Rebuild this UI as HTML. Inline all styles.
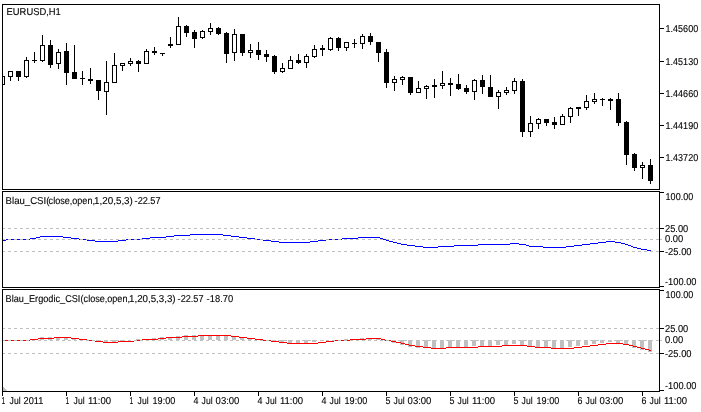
<!DOCTYPE html>
<html><head><meta charset="utf-8"><title>EURUSD,H1</title>
<style>
html,body{margin:0;padding:0;background:#fff;}
body{width:701px;height:412px;position:relative;overflow:hidden;font-family:"Liberation Sans",sans-serif;}
svg{position:absolute;left:0;top:0;}
.tx text{font-family:"Liberation Sans",sans-serif;font-size:10px;fill:#000;stroke:#000;stroke-width:0.12px;white-space:pre;text-rendering:geometricPrecision;}
</style></head><body>
<svg width="701" height="412" viewBox="0 0 701 412" shape-rendering="crispEdges">
<rect x="0" y="340" width="4" height="1" fill="#c0c0c0"/>
<rect x="32" y="339" width="4" height="1" fill="#c0c0c0"/>
<rect x="40" y="337" width="4" height="3" fill="#c0c0c0"/>
<rect x="48" y="337" width="4" height="3" fill="#c0c0c0"/>
<rect x="56" y="337" width="4" height="3" fill="#c0c0c0"/>
<rect x="64" y="338" width="4" height="2" fill="#c0c0c0"/>
<rect x="72" y="339" width="4" height="1" fill="#c0c0c0"/>
<rect x="88" y="340" width="4" height="1" fill="#c0c0c0"/>
<rect x="96" y="340" width="4" height="2" fill="#c0c0c0"/>
<rect x="104" y="340" width="4" height="2" fill="#c0c0c0"/>
<rect x="112" y="340" width="4" height="2" fill="#c0c0c0"/>
<rect x="120" y="340" width="4" height="1" fill="#c0c0c0"/>
<rect x="136" y="339" width="4" height="1" fill="#c0c0c0"/>
<rect x="144" y="339" width="4" height="1" fill="#c0c0c0"/>
<rect x="152" y="338" width="4" height="2" fill="#c0c0c0"/>
<rect x="160" y="337" width="4" height="3" fill="#c0c0c0"/>
<rect x="168" y="337" width="4" height="3" fill="#c0c0c0"/>
<rect x="176" y="336" width="4" height="4" fill="#c0c0c0"/>
<rect x="184" y="335" width="4" height="5" fill="#c0c0c0"/>
<rect x="192" y="335" width="4" height="5" fill="#c0c0c0"/>
<rect x="200" y="335" width="4" height="5" fill="#c0c0c0"/>
<rect x="208" y="335" width="4" height="5" fill="#c0c0c0"/>
<rect x="216" y="335" width="4" height="5" fill="#c0c0c0"/>
<rect x="224" y="336" width="4" height="4" fill="#c0c0c0"/>
<rect x="232" y="337" width="4" height="3" fill="#c0c0c0"/>
<rect x="240" y="338" width="4" height="2" fill="#c0c0c0"/>
<rect x="248" y="339" width="4" height="1" fill="#c0c0c0"/>
<rect x="264" y="340" width="4" height="1" fill="#c0c0c0"/>
<rect x="272" y="340" width="4" height="2" fill="#c0c0c0"/>
<rect x="280" y="340" width="4" height="3" fill="#c0c0c0"/>
<rect x="288" y="340" width="4" height="3" fill="#c0c0c0"/>
<rect x="296" y="340" width="4" height="3" fill="#c0c0c0"/>
<rect x="304" y="340" width="4" height="3" fill="#c0c0c0"/>
<rect x="312" y="340" width="4" height="2" fill="#c0c0c0"/>
<rect x="320" y="340" width="4" height="1" fill="#c0c0c0"/>
<rect x="344" y="339" width="4" height="1" fill="#c0c0c0"/>
<rect x="352" y="339" width="4" height="1" fill="#c0c0c0"/>
<rect x="360" y="338" width="4" height="2" fill="#c0c0c0"/>
<rect x="368" y="338" width="4" height="2" fill="#c0c0c0"/>
<rect x="376" y="338" width="4" height="2" fill="#c0c0c0"/>
<rect x="384" y="340" width="4" height="1" fill="#c0c0c0"/>
<rect x="392" y="340" width="4" height="3" fill="#c0c0c0"/>
<rect x="400" y="340" width="4" height="5" fill="#c0c0c0"/>
<rect x="408" y="340" width="4" height="7" fill="#c0c0c0"/>
<rect x="416" y="340" width="4" height="8" fill="#c0c0c0"/>
<rect x="424" y="340" width="4" height="8" fill="#c0c0c0"/>
<rect x="432" y="340" width="4" height="8" fill="#c0c0c0"/>
<rect x="440" y="340" width="4" height="8" fill="#c0c0c0"/>
<rect x="448" y="340" width="4" height="7" fill="#c0c0c0"/>
<rect x="456" y="340" width="4" height="7" fill="#c0c0c0"/>
<rect x="464" y="340" width="4" height="7" fill="#c0c0c0"/>
<rect x="472" y="340" width="4" height="6" fill="#c0c0c0"/>
<rect x="480" y="340" width="4" height="6" fill="#c0c0c0"/>
<rect x="488" y="340" width="4" height="6" fill="#c0c0c0"/>
<rect x="496" y="340" width="4" height="5" fill="#c0c0c0"/>
<rect x="504" y="340" width="4" height="5" fill="#c0c0c0"/>
<rect x="512" y="340" width="4" height="4" fill="#c0c0c0"/>
<rect x="520" y="340" width="4" height="5" fill="#c0c0c0"/>
<rect x="528" y="340" width="4" height="6" fill="#c0c0c0"/>
<rect x="536" y="340" width="4" height="7" fill="#c0c0c0"/>
<rect x="544" y="340" width="4" height="7" fill="#c0c0c0"/>
<rect x="552" y="340" width="4" height="8" fill="#c0c0c0"/>
<rect x="560" y="340" width="4" height="8" fill="#c0c0c0"/>
<rect x="568" y="340" width="4" height="7" fill="#c0c0c0"/>
<rect x="576" y="340" width="4" height="6" fill="#c0c0c0"/>
<rect x="584" y="340" width="4" height="5" fill="#c0c0c0"/>
<rect x="592" y="340" width="4" height="4" fill="#c0c0c0"/>
<rect x="600" y="340" width="4" height="3" fill="#c0c0c0"/>
<rect x="608" y="340" width="4" height="2" fill="#c0c0c0"/>
<rect x="616" y="340" width="4" height="3" fill="#c0c0c0"/>
<rect x="624" y="340" width="4" height="5" fill="#c0c0c0"/>
<rect x="632" y="340" width="4" height="8" fill="#c0c0c0"/>
<rect x="640" y="340" width="4" height="10" fill="#c0c0c0"/>
<rect x="648" y="340" width="4" height="12" fill="#c0c0c0"/>
<rect x="2" y="240" width="4" height="1" fill="#0000ff"/>
<rect x="6" y="239" width="24" height="1" fill="#0000ff"/>
<rect x="30" y="238" width="6" height="1" fill="#0000ff"/>
<rect x="36" y="237" width="4" height="1" fill="#0000ff"/>
<rect x="40" y="236" width="23" height="1" fill="#0000ff"/>
<rect x="63" y="237" width="8" height="1" fill="#0000ff"/>
<rect x="71" y="238" width="8" height="1" fill="#0000ff"/>
<rect x="79" y="239" width="8" height="1" fill="#0000ff"/>
<rect x="87" y="240" width="8" height="1" fill="#0000ff"/>
<rect x="95" y="241" width="23" height="1" fill="#0000ff"/>
<rect x="118" y="240" width="8" height="1" fill="#0000ff"/>
<rect x="126" y="239" width="16" height="1" fill="#0000ff"/>
<rect x="142" y="238" width="8" height="1" fill="#0000ff"/>
<rect x="150" y="237" width="16" height="1" fill="#0000ff"/>
<rect x="166" y="236" width="8" height="1" fill="#0000ff"/>
<rect x="174" y="235" width="16" height="1" fill="#0000ff"/>
<rect x="190" y="234" width="33" height="1" fill="#0000ff"/>
<rect x="223" y="235" width="8" height="1" fill="#0000ff"/>
<rect x="231" y="236" width="8" height="1" fill="#0000ff"/>
<rect x="239" y="237" width="8" height="1" fill="#0000ff"/>
<rect x="247" y="238" width="8" height="1" fill="#0000ff"/>
<rect x="255" y="239" width="8" height="1" fill="#0000ff"/>
<rect x="263" y="240" width="8" height="1" fill="#0000ff"/>
<rect x="271" y="241" width="8" height="1" fill="#0000ff"/>
<rect x="279" y="242" width="31" height="1" fill="#0000ff"/>
<rect x="310" y="241" width="8" height="1" fill="#0000ff"/>
<rect x="318" y="240" width="8" height="1" fill="#0000ff"/>
<rect x="326" y="239" width="16" height="1" fill="#0000ff"/>
<rect x="342" y="238" width="16" height="1" fill="#0000ff"/>
<rect x="358" y="237" width="22" height="1" fill="#0000ff"/>
<rect x="380" y="238" width="3" height="1" fill="#0000ff"/>
<rect x="383" y="239" width="3" height="1" fill="#0000ff"/>
<rect x="386" y="240" width="3" height="1" fill="#0000ff"/>
<rect x="389" y="241" width="4" height="1" fill="#0000ff"/>
<rect x="393" y="242" width="4" height="1" fill="#0000ff"/>
<rect x="397" y="243" width="4" height="1" fill="#0000ff"/>
<rect x="401" y="244" width="6" height="1" fill="#0000ff"/>
<rect x="407" y="245" width="8" height="1" fill="#0000ff"/>
<rect x="415" y="246" width="8" height="1" fill="#0000ff"/>
<rect x="423" y="247" width="15" height="1" fill="#0000ff"/>
<rect x="438" y="246" width="16" height="1" fill="#0000ff"/>
<rect x="454" y="245" width="24" height="1" fill="#0000ff"/>
<rect x="478" y="244" width="32" height="1" fill="#0000ff"/>
<rect x="510" y="243" width="9" height="1" fill="#0000ff"/>
<rect x="519" y="244" width="7" height="1" fill="#0000ff"/>
<rect x="526" y="245" width="3" height="1" fill="#0000ff"/>
<rect x="529" y="246" width="14" height="1" fill="#0000ff"/>
<rect x="543" y="247" width="23" height="1" fill="#0000ff"/>
<rect x="566" y="246" width="8" height="1" fill="#0000ff"/>
<rect x="574" y="245" width="8" height="1" fill="#0000ff"/>
<rect x="582" y="244" width="8" height="1" fill="#0000ff"/>
<rect x="590" y="243" width="8" height="1" fill="#0000ff"/>
<rect x="598" y="242" width="8" height="1" fill="#0000ff"/>
<rect x="606" y="241" width="9" height="1" fill="#0000ff"/>
<rect x="615" y="242" width="6" height="1" fill="#0000ff"/>
<rect x="621" y="243" width="4" height="1" fill="#0000ff"/>
<rect x="625" y="244" width="3" height="1" fill="#0000ff"/>
<rect x="628" y="245" width="3" height="1" fill="#0000ff"/>
<rect x="631" y="246" width="2" height="1" fill="#0000ff"/>
<rect x="633" y="247" width="4" height="1" fill="#0000ff"/>
<rect x="637" y="248" width="4" height="1" fill="#0000ff"/>
<rect x="641" y="249" width="6" height="1" fill="#0000ff"/>
<rect x="647" y="250" width="4" height="1" fill="#0000ff"/>
<rect x="2" y="340" width="28" height="1" fill="#ff0000"/>
<rect x="30" y="339" width="8" height="1" fill="#ff0000"/>
<rect x="38" y="338" width="16" height="1" fill="#ff0000"/>
<rect x="54" y="337" width="17" height="1" fill="#ff0000"/>
<rect x="71" y="338" width="8" height="1" fill="#ff0000"/>
<rect x="79" y="339" width="8" height="1" fill="#ff0000"/>
<rect x="87" y="340" width="8" height="1" fill="#ff0000"/>
<rect x="95" y="341" width="8" height="1" fill="#ff0000"/>
<rect x="103" y="342" width="15" height="1" fill="#ff0000"/>
<rect x="118" y="341" width="16" height="1" fill="#ff0000"/>
<rect x="134" y="340" width="8" height="1" fill="#ff0000"/>
<rect x="142" y="339" width="16" height="1" fill="#ff0000"/>
<rect x="158" y="338" width="8" height="1" fill="#ff0000"/>
<rect x="166" y="337" width="16" height="1" fill="#ff0000"/>
<rect x="182" y="336" width="16" height="1" fill="#ff0000"/>
<rect x="198" y="335" width="33" height="1" fill="#ff0000"/>
<rect x="231" y="336" width="8" height="1" fill="#ff0000"/>
<rect x="239" y="337" width="8" height="1" fill="#ff0000"/>
<rect x="247" y="338" width="8" height="1" fill="#ff0000"/>
<rect x="255" y="339" width="8" height="1" fill="#ff0000"/>
<rect x="263" y="340" width="8" height="1" fill="#ff0000"/>
<rect x="271" y="341" width="8" height="1" fill="#ff0000"/>
<rect x="279" y="342" width="8" height="1" fill="#ff0000"/>
<rect x="287" y="343" width="31" height="1" fill="#ff0000"/>
<rect x="318" y="342" width="8" height="1" fill="#ff0000"/>
<rect x="326" y="341" width="8" height="1" fill="#ff0000"/>
<rect x="334" y="340" width="16" height="1" fill="#ff0000"/>
<rect x="350" y="339" width="16" height="1" fill="#ff0000"/>
<rect x="366" y="338" width="15" height="1" fill="#ff0000"/>
<rect x="381" y="339" width="4" height="1" fill="#ff0000"/>
<rect x="385" y="340" width="6" height="1" fill="#ff0000"/>
<rect x="391" y="341" width="5" height="1" fill="#ff0000"/>
<rect x="396" y="342" width="5" height="1" fill="#ff0000"/>
<rect x="401" y="343" width="4" height="1" fill="#ff0000"/>
<rect x="405" y="344" width="4" height="1" fill="#ff0000"/>
<rect x="409" y="345" width="6" height="1" fill="#ff0000"/>
<rect x="415" y="346" width="8" height="1" fill="#ff0000"/>
<rect x="423" y="347" width="8" height="1" fill="#ff0000"/>
<rect x="431" y="348" width="15" height="1" fill="#ff0000"/>
<rect x="446" y="347" width="32" height="1" fill="#ff0000"/>
<rect x="478" y="346" width="24" height="1" fill="#ff0000"/>
<rect x="502" y="345" width="25" height="1" fill="#ff0000"/>
<rect x="527" y="346" width="8" height="1" fill="#ff0000"/>
<rect x="535" y="347" width="16" height="1" fill="#ff0000"/>
<rect x="551" y="348" width="23" height="1" fill="#ff0000"/>
<rect x="574" y="347" width="8" height="1" fill="#ff0000"/>
<rect x="582" y="346" width="8" height="1" fill="#ff0000"/>
<rect x="590" y="345" width="8" height="1" fill="#ff0000"/>
<rect x="598" y="344" width="8" height="1" fill="#ff0000"/>
<rect x="606" y="343" width="17" height="1" fill="#ff0000"/>
<rect x="623" y="344" width="6" height="1" fill="#ff0000"/>
<rect x="629" y="345" width="4" height="1" fill="#ff0000"/>
<rect x="633" y="346" width="4" height="1" fill="#ff0000"/>
<rect x="637" y="347" width="4" height="1" fill="#ff0000"/>
<rect x="641" y="348" width="4" height="1" fill="#ff0000"/>
<rect x="645" y="349" width="4" height="1" fill="#ff0000"/>
<rect x="649" y="350" width="2" height="1" fill="#ff0000"/>
<rect x="2" y="228" width="3" height="1" fill="#c0c0c0"/>
<rect x="8" y="228" width="3" height="1" fill="#c0c0c0"/>
<rect x="14" y="228" width="3" height="1" fill="#c0c0c0"/>
<rect x="20" y="228" width="3" height="1" fill="#c0c0c0"/>
<rect x="26" y="228" width="3" height="1" fill="#c0c0c0"/>
<rect x="32" y="228" width="3" height="1" fill="#c0c0c0"/>
<rect x="38" y="228" width="3" height="1" fill="#c0c0c0"/>
<rect x="44" y="228" width="3" height="1" fill="#c0c0c0"/>
<rect x="50" y="228" width="3" height="1" fill="#c0c0c0"/>
<rect x="56" y="228" width="3" height="1" fill="#c0c0c0"/>
<rect x="62" y="228" width="3" height="1" fill="#c0c0c0"/>
<rect x="68" y="228" width="3" height="1" fill="#c0c0c0"/>
<rect x="74" y="228" width="3" height="1" fill="#c0c0c0"/>
<rect x="80" y="228" width="3" height="1" fill="#c0c0c0"/>
<rect x="86" y="228" width="3" height="1" fill="#c0c0c0"/>
<rect x="92" y="228" width="3" height="1" fill="#c0c0c0"/>
<rect x="98" y="228" width="3" height="1" fill="#c0c0c0"/>
<rect x="104" y="228" width="3" height="1" fill="#c0c0c0"/>
<rect x="110" y="228" width="3" height="1" fill="#c0c0c0"/>
<rect x="116" y="228" width="3" height="1" fill="#c0c0c0"/>
<rect x="122" y="228" width="3" height="1" fill="#c0c0c0"/>
<rect x="128" y="228" width="3" height="1" fill="#c0c0c0"/>
<rect x="134" y="228" width="3" height="1" fill="#c0c0c0"/>
<rect x="140" y="228" width="3" height="1" fill="#c0c0c0"/>
<rect x="146" y="228" width="3" height="1" fill="#c0c0c0"/>
<rect x="152" y="228" width="3" height="1" fill="#c0c0c0"/>
<rect x="158" y="228" width="3" height="1" fill="#c0c0c0"/>
<rect x="164" y="228" width="3" height="1" fill="#c0c0c0"/>
<rect x="170" y="228" width="3" height="1" fill="#c0c0c0"/>
<rect x="176" y="228" width="3" height="1" fill="#c0c0c0"/>
<rect x="182" y="228" width="3" height="1" fill="#c0c0c0"/>
<rect x="188" y="228" width="3" height="1" fill="#c0c0c0"/>
<rect x="194" y="228" width="3" height="1" fill="#c0c0c0"/>
<rect x="200" y="228" width="3" height="1" fill="#c0c0c0"/>
<rect x="206" y="228" width="3" height="1" fill="#c0c0c0"/>
<rect x="212" y="228" width="3" height="1" fill="#c0c0c0"/>
<rect x="218" y="228" width="3" height="1" fill="#c0c0c0"/>
<rect x="224" y="228" width="3" height="1" fill="#c0c0c0"/>
<rect x="230" y="228" width="3" height="1" fill="#c0c0c0"/>
<rect x="236" y="228" width="3" height="1" fill="#c0c0c0"/>
<rect x="242" y="228" width="3" height="1" fill="#c0c0c0"/>
<rect x="248" y="228" width="3" height="1" fill="#c0c0c0"/>
<rect x="254" y="228" width="3" height="1" fill="#c0c0c0"/>
<rect x="260" y="228" width="3" height="1" fill="#c0c0c0"/>
<rect x="266" y="228" width="3" height="1" fill="#c0c0c0"/>
<rect x="272" y="228" width="3" height="1" fill="#c0c0c0"/>
<rect x="278" y="228" width="3" height="1" fill="#c0c0c0"/>
<rect x="284" y="228" width="3" height="1" fill="#c0c0c0"/>
<rect x="290" y="228" width="3" height="1" fill="#c0c0c0"/>
<rect x="296" y="228" width="3" height="1" fill="#c0c0c0"/>
<rect x="302" y="228" width="3" height="1" fill="#c0c0c0"/>
<rect x="308" y="228" width="3" height="1" fill="#c0c0c0"/>
<rect x="314" y="228" width="3" height="1" fill="#c0c0c0"/>
<rect x="320" y="228" width="3" height="1" fill="#c0c0c0"/>
<rect x="326" y="228" width="3" height="1" fill="#c0c0c0"/>
<rect x="332" y="228" width="3" height="1" fill="#c0c0c0"/>
<rect x="338" y="228" width="3" height="1" fill="#c0c0c0"/>
<rect x="344" y="228" width="3" height="1" fill="#c0c0c0"/>
<rect x="350" y="228" width="3" height="1" fill="#c0c0c0"/>
<rect x="356" y="228" width="3" height="1" fill="#c0c0c0"/>
<rect x="362" y="228" width="3" height="1" fill="#c0c0c0"/>
<rect x="368" y="228" width="3" height="1" fill="#c0c0c0"/>
<rect x="374" y="228" width="3" height="1" fill="#c0c0c0"/>
<rect x="380" y="228" width="3" height="1" fill="#c0c0c0"/>
<rect x="386" y="228" width="3" height="1" fill="#c0c0c0"/>
<rect x="392" y="228" width="3" height="1" fill="#c0c0c0"/>
<rect x="398" y="228" width="3" height="1" fill="#c0c0c0"/>
<rect x="404" y="228" width="3" height="1" fill="#c0c0c0"/>
<rect x="410" y="228" width="3" height="1" fill="#c0c0c0"/>
<rect x="416" y="228" width="3" height="1" fill="#c0c0c0"/>
<rect x="422" y="228" width="3" height="1" fill="#c0c0c0"/>
<rect x="428" y="228" width="3" height="1" fill="#c0c0c0"/>
<rect x="434" y="228" width="3" height="1" fill="#c0c0c0"/>
<rect x="440" y="228" width="3" height="1" fill="#c0c0c0"/>
<rect x="446" y="228" width="3" height="1" fill="#c0c0c0"/>
<rect x="452" y="228" width="3" height="1" fill="#c0c0c0"/>
<rect x="458" y="228" width="3" height="1" fill="#c0c0c0"/>
<rect x="464" y="228" width="3" height="1" fill="#c0c0c0"/>
<rect x="470" y="228" width="3" height="1" fill="#c0c0c0"/>
<rect x="476" y="228" width="3" height="1" fill="#c0c0c0"/>
<rect x="482" y="228" width="3" height="1" fill="#c0c0c0"/>
<rect x="488" y="228" width="3" height="1" fill="#c0c0c0"/>
<rect x="494" y="228" width="3" height="1" fill="#c0c0c0"/>
<rect x="500" y="228" width="3" height="1" fill="#c0c0c0"/>
<rect x="506" y="228" width="3" height="1" fill="#c0c0c0"/>
<rect x="512" y="228" width="3" height="1" fill="#c0c0c0"/>
<rect x="518" y="228" width="3" height="1" fill="#c0c0c0"/>
<rect x="524" y="228" width="3" height="1" fill="#c0c0c0"/>
<rect x="530" y="228" width="3" height="1" fill="#c0c0c0"/>
<rect x="536" y="228" width="3" height="1" fill="#c0c0c0"/>
<rect x="542" y="228" width="3" height="1" fill="#c0c0c0"/>
<rect x="548" y="228" width="3" height="1" fill="#c0c0c0"/>
<rect x="554" y="228" width="3" height="1" fill="#c0c0c0"/>
<rect x="560" y="228" width="3" height="1" fill="#c0c0c0"/>
<rect x="566" y="228" width="3" height="1" fill="#c0c0c0"/>
<rect x="572" y="228" width="3" height="1" fill="#c0c0c0"/>
<rect x="578" y="228" width="3" height="1" fill="#c0c0c0"/>
<rect x="584" y="228" width="3" height="1" fill="#c0c0c0"/>
<rect x="590" y="228" width="3" height="1" fill="#c0c0c0"/>
<rect x="596" y="228" width="3" height="1" fill="#c0c0c0"/>
<rect x="602" y="228" width="3" height="1" fill="#c0c0c0"/>
<rect x="608" y="228" width="3" height="1" fill="#c0c0c0"/>
<rect x="614" y="228" width="3" height="1" fill="#c0c0c0"/>
<rect x="620" y="228" width="3" height="1" fill="#c0c0c0"/>
<rect x="626" y="228" width="3" height="1" fill="#c0c0c0"/>
<rect x="632" y="228" width="3" height="1" fill="#c0c0c0"/>
<rect x="638" y="228" width="3" height="1" fill="#c0c0c0"/>
<rect x="644" y="228" width="3" height="1" fill="#c0c0c0"/>
<rect x="650" y="228" width="3" height="1" fill="#c0c0c0"/>
<rect x="656" y="228" width="3" height="1" fill="#c0c0c0"/>
<rect x="2" y="239" width="3" height="1" fill="#c0c0c0"/>
<rect x="8" y="239" width="3" height="1" fill="#c0c0c0"/>
<rect x="14" y="239" width="3" height="1" fill="#c0c0c0"/>
<rect x="20" y="239" width="3" height="1" fill="#c0c0c0"/>
<rect x="26" y="239" width="3" height="1" fill="#c0c0c0"/>
<rect x="32" y="239" width="3" height="1" fill="#c0c0c0"/>
<rect x="38" y="239" width="3" height="1" fill="#c0c0c0"/>
<rect x="44" y="239" width="3" height="1" fill="#c0c0c0"/>
<rect x="50" y="239" width="3" height="1" fill="#c0c0c0"/>
<rect x="56" y="239" width="3" height="1" fill="#c0c0c0"/>
<rect x="62" y="239" width="3" height="1" fill="#c0c0c0"/>
<rect x="68" y="239" width="3" height="1" fill="#c0c0c0"/>
<rect x="74" y="239" width="3" height="1" fill="#c0c0c0"/>
<rect x="80" y="239" width="3" height="1" fill="#c0c0c0"/>
<rect x="86" y="239" width="3" height="1" fill="#c0c0c0"/>
<rect x="92" y="239" width="3" height="1" fill="#c0c0c0"/>
<rect x="98" y="239" width="3" height="1" fill="#c0c0c0"/>
<rect x="104" y="239" width="3" height="1" fill="#c0c0c0"/>
<rect x="110" y="239" width="3" height="1" fill="#c0c0c0"/>
<rect x="116" y="239" width="3" height="1" fill="#c0c0c0"/>
<rect x="122" y="239" width="3" height="1" fill="#c0c0c0"/>
<rect x="128" y="239" width="3" height="1" fill="#c0c0c0"/>
<rect x="134" y="239" width="3" height="1" fill="#c0c0c0"/>
<rect x="140" y="239" width="3" height="1" fill="#c0c0c0"/>
<rect x="146" y="239" width="3" height="1" fill="#c0c0c0"/>
<rect x="152" y="239" width="3" height="1" fill="#c0c0c0"/>
<rect x="158" y="239" width="3" height="1" fill="#c0c0c0"/>
<rect x="164" y="239" width="3" height="1" fill="#c0c0c0"/>
<rect x="170" y="239" width="3" height="1" fill="#c0c0c0"/>
<rect x="176" y="239" width="3" height="1" fill="#c0c0c0"/>
<rect x="182" y="239" width="3" height="1" fill="#c0c0c0"/>
<rect x="188" y="239" width="3" height="1" fill="#c0c0c0"/>
<rect x="194" y="239" width="3" height="1" fill="#c0c0c0"/>
<rect x="200" y="239" width="3" height="1" fill="#c0c0c0"/>
<rect x="206" y="239" width="3" height="1" fill="#c0c0c0"/>
<rect x="212" y="239" width="3" height="1" fill="#c0c0c0"/>
<rect x="218" y="239" width="3" height="1" fill="#c0c0c0"/>
<rect x="224" y="239" width="3" height="1" fill="#c0c0c0"/>
<rect x="230" y="239" width="3" height="1" fill="#c0c0c0"/>
<rect x="236" y="239" width="3" height="1" fill="#c0c0c0"/>
<rect x="242" y="239" width="3" height="1" fill="#c0c0c0"/>
<rect x="248" y="239" width="3" height="1" fill="#c0c0c0"/>
<rect x="254" y="239" width="3" height="1" fill="#c0c0c0"/>
<rect x="260" y="239" width="3" height="1" fill="#c0c0c0"/>
<rect x="266" y="239" width="3" height="1" fill="#c0c0c0"/>
<rect x="272" y="239" width="3" height="1" fill="#c0c0c0"/>
<rect x="278" y="239" width="3" height="1" fill="#c0c0c0"/>
<rect x="284" y="239" width="3" height="1" fill="#c0c0c0"/>
<rect x="290" y="239" width="3" height="1" fill="#c0c0c0"/>
<rect x="296" y="239" width="3" height="1" fill="#c0c0c0"/>
<rect x="302" y="239" width="3" height="1" fill="#c0c0c0"/>
<rect x="308" y="239" width="3" height="1" fill="#c0c0c0"/>
<rect x="314" y="239" width="3" height="1" fill="#c0c0c0"/>
<rect x="320" y="239" width="3" height="1" fill="#c0c0c0"/>
<rect x="326" y="239" width="3" height="1" fill="#c0c0c0"/>
<rect x="332" y="239" width="3" height="1" fill="#c0c0c0"/>
<rect x="338" y="239" width="3" height="1" fill="#c0c0c0"/>
<rect x="344" y="239" width="3" height="1" fill="#c0c0c0"/>
<rect x="350" y="239" width="3" height="1" fill="#c0c0c0"/>
<rect x="356" y="239" width="3" height="1" fill="#c0c0c0"/>
<rect x="362" y="239" width="3" height="1" fill="#c0c0c0"/>
<rect x="368" y="239" width="3" height="1" fill="#c0c0c0"/>
<rect x="374" y="239" width="3" height="1" fill="#c0c0c0"/>
<rect x="380" y="239" width="3" height="1" fill="#c0c0c0"/>
<rect x="386" y="239" width="3" height="1" fill="#c0c0c0"/>
<rect x="392" y="239" width="3" height="1" fill="#c0c0c0"/>
<rect x="398" y="239" width="3" height="1" fill="#c0c0c0"/>
<rect x="404" y="239" width="3" height="1" fill="#c0c0c0"/>
<rect x="410" y="239" width="3" height="1" fill="#c0c0c0"/>
<rect x="416" y="239" width="3" height="1" fill="#c0c0c0"/>
<rect x="422" y="239" width="3" height="1" fill="#c0c0c0"/>
<rect x="428" y="239" width="3" height="1" fill="#c0c0c0"/>
<rect x="434" y="239" width="3" height="1" fill="#c0c0c0"/>
<rect x="440" y="239" width="3" height="1" fill="#c0c0c0"/>
<rect x="446" y="239" width="3" height="1" fill="#c0c0c0"/>
<rect x="452" y="239" width="3" height="1" fill="#c0c0c0"/>
<rect x="458" y="239" width="3" height="1" fill="#c0c0c0"/>
<rect x="464" y="239" width="3" height="1" fill="#c0c0c0"/>
<rect x="470" y="239" width="3" height="1" fill="#c0c0c0"/>
<rect x="476" y="239" width="3" height="1" fill="#c0c0c0"/>
<rect x="482" y="239" width="3" height="1" fill="#c0c0c0"/>
<rect x="488" y="239" width="3" height="1" fill="#c0c0c0"/>
<rect x="494" y="239" width="3" height="1" fill="#c0c0c0"/>
<rect x="500" y="239" width="3" height="1" fill="#c0c0c0"/>
<rect x="506" y="239" width="3" height="1" fill="#c0c0c0"/>
<rect x="512" y="239" width="3" height="1" fill="#c0c0c0"/>
<rect x="518" y="239" width="3" height="1" fill="#c0c0c0"/>
<rect x="524" y="239" width="3" height="1" fill="#c0c0c0"/>
<rect x="530" y="239" width="3" height="1" fill="#c0c0c0"/>
<rect x="536" y="239" width="3" height="1" fill="#c0c0c0"/>
<rect x="542" y="239" width="3" height="1" fill="#c0c0c0"/>
<rect x="548" y="239" width="3" height="1" fill="#c0c0c0"/>
<rect x="554" y="239" width="3" height="1" fill="#c0c0c0"/>
<rect x="560" y="239" width="3" height="1" fill="#c0c0c0"/>
<rect x="566" y="239" width="3" height="1" fill="#c0c0c0"/>
<rect x="572" y="239" width="3" height="1" fill="#c0c0c0"/>
<rect x="578" y="239" width="3" height="1" fill="#c0c0c0"/>
<rect x="584" y="239" width="3" height="1" fill="#c0c0c0"/>
<rect x="590" y="239" width="3" height="1" fill="#c0c0c0"/>
<rect x="596" y="239" width="3" height="1" fill="#c0c0c0"/>
<rect x="602" y="239" width="3" height="1" fill="#c0c0c0"/>
<rect x="608" y="239" width="3" height="1" fill="#c0c0c0"/>
<rect x="614" y="239" width="3" height="1" fill="#c0c0c0"/>
<rect x="620" y="239" width="3" height="1" fill="#c0c0c0"/>
<rect x="626" y="239" width="3" height="1" fill="#c0c0c0"/>
<rect x="632" y="239" width="3" height="1" fill="#c0c0c0"/>
<rect x="638" y="239" width="3" height="1" fill="#c0c0c0"/>
<rect x="644" y="239" width="3" height="1" fill="#c0c0c0"/>
<rect x="650" y="239" width="3" height="1" fill="#c0c0c0"/>
<rect x="656" y="239" width="3" height="1" fill="#c0c0c0"/>
<rect x="2" y="251" width="3" height="1" fill="#c0c0c0"/>
<rect x="8" y="251" width="3" height="1" fill="#c0c0c0"/>
<rect x="14" y="251" width="3" height="1" fill="#c0c0c0"/>
<rect x="20" y="251" width="3" height="1" fill="#c0c0c0"/>
<rect x="26" y="251" width="3" height="1" fill="#c0c0c0"/>
<rect x="32" y="251" width="3" height="1" fill="#c0c0c0"/>
<rect x="38" y="251" width="3" height="1" fill="#c0c0c0"/>
<rect x="44" y="251" width="3" height="1" fill="#c0c0c0"/>
<rect x="50" y="251" width="3" height="1" fill="#c0c0c0"/>
<rect x="56" y="251" width="3" height="1" fill="#c0c0c0"/>
<rect x="62" y="251" width="3" height="1" fill="#c0c0c0"/>
<rect x="68" y="251" width="3" height="1" fill="#c0c0c0"/>
<rect x="74" y="251" width="3" height="1" fill="#c0c0c0"/>
<rect x="80" y="251" width="3" height="1" fill="#c0c0c0"/>
<rect x="86" y="251" width="3" height="1" fill="#c0c0c0"/>
<rect x="92" y="251" width="3" height="1" fill="#c0c0c0"/>
<rect x="98" y="251" width="3" height="1" fill="#c0c0c0"/>
<rect x="104" y="251" width="3" height="1" fill="#c0c0c0"/>
<rect x="110" y="251" width="3" height="1" fill="#c0c0c0"/>
<rect x="116" y="251" width="3" height="1" fill="#c0c0c0"/>
<rect x="122" y="251" width="3" height="1" fill="#c0c0c0"/>
<rect x="128" y="251" width="3" height="1" fill="#c0c0c0"/>
<rect x="134" y="251" width="3" height="1" fill="#c0c0c0"/>
<rect x="140" y="251" width="3" height="1" fill="#c0c0c0"/>
<rect x="146" y="251" width="3" height="1" fill="#c0c0c0"/>
<rect x="152" y="251" width="3" height="1" fill="#c0c0c0"/>
<rect x="158" y="251" width="3" height="1" fill="#c0c0c0"/>
<rect x="164" y="251" width="3" height="1" fill="#c0c0c0"/>
<rect x="170" y="251" width="3" height="1" fill="#c0c0c0"/>
<rect x="176" y="251" width="3" height="1" fill="#c0c0c0"/>
<rect x="182" y="251" width="3" height="1" fill="#c0c0c0"/>
<rect x="188" y="251" width="3" height="1" fill="#c0c0c0"/>
<rect x="194" y="251" width="3" height="1" fill="#c0c0c0"/>
<rect x="200" y="251" width="3" height="1" fill="#c0c0c0"/>
<rect x="206" y="251" width="3" height="1" fill="#c0c0c0"/>
<rect x="212" y="251" width="3" height="1" fill="#c0c0c0"/>
<rect x="218" y="251" width="3" height="1" fill="#c0c0c0"/>
<rect x="224" y="251" width="3" height="1" fill="#c0c0c0"/>
<rect x="230" y="251" width="3" height="1" fill="#c0c0c0"/>
<rect x="236" y="251" width="3" height="1" fill="#c0c0c0"/>
<rect x="242" y="251" width="3" height="1" fill="#c0c0c0"/>
<rect x="248" y="251" width="3" height="1" fill="#c0c0c0"/>
<rect x="254" y="251" width="3" height="1" fill="#c0c0c0"/>
<rect x="260" y="251" width="3" height="1" fill="#c0c0c0"/>
<rect x="266" y="251" width="3" height="1" fill="#c0c0c0"/>
<rect x="272" y="251" width="3" height="1" fill="#c0c0c0"/>
<rect x="278" y="251" width="3" height="1" fill="#c0c0c0"/>
<rect x="284" y="251" width="3" height="1" fill="#c0c0c0"/>
<rect x="290" y="251" width="3" height="1" fill="#c0c0c0"/>
<rect x="296" y="251" width="3" height="1" fill="#c0c0c0"/>
<rect x="302" y="251" width="3" height="1" fill="#c0c0c0"/>
<rect x="308" y="251" width="3" height="1" fill="#c0c0c0"/>
<rect x="314" y="251" width="3" height="1" fill="#c0c0c0"/>
<rect x="320" y="251" width="3" height="1" fill="#c0c0c0"/>
<rect x="326" y="251" width="3" height="1" fill="#c0c0c0"/>
<rect x="332" y="251" width="3" height="1" fill="#c0c0c0"/>
<rect x="338" y="251" width="3" height="1" fill="#c0c0c0"/>
<rect x="344" y="251" width="3" height="1" fill="#c0c0c0"/>
<rect x="350" y="251" width="3" height="1" fill="#c0c0c0"/>
<rect x="356" y="251" width="3" height="1" fill="#c0c0c0"/>
<rect x="362" y="251" width="3" height="1" fill="#c0c0c0"/>
<rect x="368" y="251" width="3" height="1" fill="#c0c0c0"/>
<rect x="374" y="251" width="3" height="1" fill="#c0c0c0"/>
<rect x="380" y="251" width="3" height="1" fill="#c0c0c0"/>
<rect x="386" y="251" width="3" height="1" fill="#c0c0c0"/>
<rect x="392" y="251" width="3" height="1" fill="#c0c0c0"/>
<rect x="398" y="251" width="3" height="1" fill="#c0c0c0"/>
<rect x="404" y="251" width="3" height="1" fill="#c0c0c0"/>
<rect x="410" y="251" width="3" height="1" fill="#c0c0c0"/>
<rect x="416" y="251" width="3" height="1" fill="#c0c0c0"/>
<rect x="422" y="251" width="3" height="1" fill="#c0c0c0"/>
<rect x="428" y="251" width="3" height="1" fill="#c0c0c0"/>
<rect x="434" y="251" width="3" height="1" fill="#c0c0c0"/>
<rect x="440" y="251" width="3" height="1" fill="#c0c0c0"/>
<rect x="446" y="251" width="3" height="1" fill="#c0c0c0"/>
<rect x="452" y="251" width="3" height="1" fill="#c0c0c0"/>
<rect x="458" y="251" width="3" height="1" fill="#c0c0c0"/>
<rect x="464" y="251" width="3" height="1" fill="#c0c0c0"/>
<rect x="470" y="251" width="3" height="1" fill="#c0c0c0"/>
<rect x="476" y="251" width="3" height="1" fill="#c0c0c0"/>
<rect x="482" y="251" width="3" height="1" fill="#c0c0c0"/>
<rect x="488" y="251" width="3" height="1" fill="#c0c0c0"/>
<rect x="494" y="251" width="3" height="1" fill="#c0c0c0"/>
<rect x="500" y="251" width="3" height="1" fill="#c0c0c0"/>
<rect x="506" y="251" width="3" height="1" fill="#c0c0c0"/>
<rect x="512" y="251" width="3" height="1" fill="#c0c0c0"/>
<rect x="518" y="251" width="3" height="1" fill="#c0c0c0"/>
<rect x="524" y="251" width="3" height="1" fill="#c0c0c0"/>
<rect x="530" y="251" width="3" height="1" fill="#c0c0c0"/>
<rect x="536" y="251" width="3" height="1" fill="#c0c0c0"/>
<rect x="542" y="251" width="3" height="1" fill="#c0c0c0"/>
<rect x="548" y="251" width="3" height="1" fill="#c0c0c0"/>
<rect x="554" y="251" width="3" height="1" fill="#c0c0c0"/>
<rect x="560" y="251" width="3" height="1" fill="#c0c0c0"/>
<rect x="566" y="251" width="3" height="1" fill="#c0c0c0"/>
<rect x="572" y="251" width="3" height="1" fill="#c0c0c0"/>
<rect x="578" y="251" width="3" height="1" fill="#c0c0c0"/>
<rect x="584" y="251" width="3" height="1" fill="#c0c0c0"/>
<rect x="590" y="251" width="3" height="1" fill="#c0c0c0"/>
<rect x="596" y="251" width="3" height="1" fill="#c0c0c0"/>
<rect x="602" y="251" width="3" height="1" fill="#c0c0c0"/>
<rect x="608" y="251" width="3" height="1" fill="#c0c0c0"/>
<rect x="614" y="251" width="3" height="1" fill="#c0c0c0"/>
<rect x="620" y="251" width="3" height="1" fill="#c0c0c0"/>
<rect x="626" y="251" width="3" height="1" fill="#c0c0c0"/>
<rect x="632" y="251" width="3" height="1" fill="#c0c0c0"/>
<rect x="638" y="251" width="3" height="1" fill="#c0c0c0"/>
<rect x="644" y="251" width="3" height="1" fill="#c0c0c0"/>
<rect x="650" y="251" width="3" height="1" fill="#c0c0c0"/>
<rect x="656" y="251" width="3" height="1" fill="#c0c0c0"/>
<rect x="2" y="328" width="3" height="1" fill="#c0c0c0"/>
<rect x="8" y="328" width="3" height="1" fill="#c0c0c0"/>
<rect x="14" y="328" width="3" height="1" fill="#c0c0c0"/>
<rect x="20" y="328" width="3" height="1" fill="#c0c0c0"/>
<rect x="26" y="328" width="3" height="1" fill="#c0c0c0"/>
<rect x="32" y="328" width="3" height="1" fill="#c0c0c0"/>
<rect x="38" y="328" width="3" height="1" fill="#c0c0c0"/>
<rect x="44" y="328" width="3" height="1" fill="#c0c0c0"/>
<rect x="50" y="328" width="3" height="1" fill="#c0c0c0"/>
<rect x="56" y="328" width="3" height="1" fill="#c0c0c0"/>
<rect x="62" y="328" width="3" height="1" fill="#c0c0c0"/>
<rect x="68" y="328" width="3" height="1" fill="#c0c0c0"/>
<rect x="74" y="328" width="3" height="1" fill="#c0c0c0"/>
<rect x="80" y="328" width="3" height="1" fill="#c0c0c0"/>
<rect x="86" y="328" width="3" height="1" fill="#c0c0c0"/>
<rect x="92" y="328" width="3" height="1" fill="#c0c0c0"/>
<rect x="98" y="328" width="3" height="1" fill="#c0c0c0"/>
<rect x="104" y="328" width="3" height="1" fill="#c0c0c0"/>
<rect x="110" y="328" width="3" height="1" fill="#c0c0c0"/>
<rect x="116" y="328" width="3" height="1" fill="#c0c0c0"/>
<rect x="122" y="328" width="3" height="1" fill="#c0c0c0"/>
<rect x="128" y="328" width="3" height="1" fill="#c0c0c0"/>
<rect x="134" y="328" width="3" height="1" fill="#c0c0c0"/>
<rect x="140" y="328" width="3" height="1" fill="#c0c0c0"/>
<rect x="146" y="328" width="3" height="1" fill="#c0c0c0"/>
<rect x="152" y="328" width="3" height="1" fill="#c0c0c0"/>
<rect x="158" y="328" width="3" height="1" fill="#c0c0c0"/>
<rect x="164" y="328" width="3" height="1" fill="#c0c0c0"/>
<rect x="170" y="328" width="3" height="1" fill="#c0c0c0"/>
<rect x="176" y="328" width="3" height="1" fill="#c0c0c0"/>
<rect x="182" y="328" width="3" height="1" fill="#c0c0c0"/>
<rect x="188" y="328" width="3" height="1" fill="#c0c0c0"/>
<rect x="194" y="328" width="3" height="1" fill="#c0c0c0"/>
<rect x="200" y="328" width="3" height="1" fill="#c0c0c0"/>
<rect x="206" y="328" width="3" height="1" fill="#c0c0c0"/>
<rect x="212" y="328" width="3" height="1" fill="#c0c0c0"/>
<rect x="218" y="328" width="3" height="1" fill="#c0c0c0"/>
<rect x="224" y="328" width="3" height="1" fill="#c0c0c0"/>
<rect x="230" y="328" width="3" height="1" fill="#c0c0c0"/>
<rect x="236" y="328" width="3" height="1" fill="#c0c0c0"/>
<rect x="242" y="328" width="3" height="1" fill="#c0c0c0"/>
<rect x="248" y="328" width="3" height="1" fill="#c0c0c0"/>
<rect x="254" y="328" width="3" height="1" fill="#c0c0c0"/>
<rect x="260" y="328" width="3" height="1" fill="#c0c0c0"/>
<rect x="266" y="328" width="3" height="1" fill="#c0c0c0"/>
<rect x="272" y="328" width="3" height="1" fill="#c0c0c0"/>
<rect x="278" y="328" width="3" height="1" fill="#c0c0c0"/>
<rect x="284" y="328" width="3" height="1" fill="#c0c0c0"/>
<rect x="290" y="328" width="3" height="1" fill="#c0c0c0"/>
<rect x="296" y="328" width="3" height="1" fill="#c0c0c0"/>
<rect x="302" y="328" width="3" height="1" fill="#c0c0c0"/>
<rect x="308" y="328" width="3" height="1" fill="#c0c0c0"/>
<rect x="314" y="328" width="3" height="1" fill="#c0c0c0"/>
<rect x="320" y="328" width="3" height="1" fill="#c0c0c0"/>
<rect x="326" y="328" width="3" height="1" fill="#c0c0c0"/>
<rect x="332" y="328" width="3" height="1" fill="#c0c0c0"/>
<rect x="338" y="328" width="3" height="1" fill="#c0c0c0"/>
<rect x="344" y="328" width="3" height="1" fill="#c0c0c0"/>
<rect x="350" y="328" width="3" height="1" fill="#c0c0c0"/>
<rect x="356" y="328" width="3" height="1" fill="#c0c0c0"/>
<rect x="362" y="328" width="3" height="1" fill="#c0c0c0"/>
<rect x="368" y="328" width="3" height="1" fill="#c0c0c0"/>
<rect x="374" y="328" width="3" height="1" fill="#c0c0c0"/>
<rect x="380" y="328" width="3" height="1" fill="#c0c0c0"/>
<rect x="386" y="328" width="3" height="1" fill="#c0c0c0"/>
<rect x="392" y="328" width="3" height="1" fill="#c0c0c0"/>
<rect x="398" y="328" width="3" height="1" fill="#c0c0c0"/>
<rect x="404" y="328" width="3" height="1" fill="#c0c0c0"/>
<rect x="410" y="328" width="3" height="1" fill="#c0c0c0"/>
<rect x="416" y="328" width="3" height="1" fill="#c0c0c0"/>
<rect x="422" y="328" width="3" height="1" fill="#c0c0c0"/>
<rect x="428" y="328" width="3" height="1" fill="#c0c0c0"/>
<rect x="434" y="328" width="3" height="1" fill="#c0c0c0"/>
<rect x="440" y="328" width="3" height="1" fill="#c0c0c0"/>
<rect x="446" y="328" width="3" height="1" fill="#c0c0c0"/>
<rect x="452" y="328" width="3" height="1" fill="#c0c0c0"/>
<rect x="458" y="328" width="3" height="1" fill="#c0c0c0"/>
<rect x="464" y="328" width="3" height="1" fill="#c0c0c0"/>
<rect x="470" y="328" width="3" height="1" fill="#c0c0c0"/>
<rect x="476" y="328" width="3" height="1" fill="#c0c0c0"/>
<rect x="482" y="328" width="3" height="1" fill="#c0c0c0"/>
<rect x="488" y="328" width="3" height="1" fill="#c0c0c0"/>
<rect x="494" y="328" width="3" height="1" fill="#c0c0c0"/>
<rect x="500" y="328" width="3" height="1" fill="#c0c0c0"/>
<rect x="506" y="328" width="3" height="1" fill="#c0c0c0"/>
<rect x="512" y="328" width="3" height="1" fill="#c0c0c0"/>
<rect x="518" y="328" width="3" height="1" fill="#c0c0c0"/>
<rect x="524" y="328" width="3" height="1" fill="#c0c0c0"/>
<rect x="530" y="328" width="3" height="1" fill="#c0c0c0"/>
<rect x="536" y="328" width="3" height="1" fill="#c0c0c0"/>
<rect x="542" y="328" width="3" height="1" fill="#c0c0c0"/>
<rect x="548" y="328" width="3" height="1" fill="#c0c0c0"/>
<rect x="554" y="328" width="3" height="1" fill="#c0c0c0"/>
<rect x="560" y="328" width="3" height="1" fill="#c0c0c0"/>
<rect x="566" y="328" width="3" height="1" fill="#c0c0c0"/>
<rect x="572" y="328" width="3" height="1" fill="#c0c0c0"/>
<rect x="578" y="328" width="3" height="1" fill="#c0c0c0"/>
<rect x="584" y="328" width="3" height="1" fill="#c0c0c0"/>
<rect x="590" y="328" width="3" height="1" fill="#c0c0c0"/>
<rect x="596" y="328" width="3" height="1" fill="#c0c0c0"/>
<rect x="602" y="328" width="3" height="1" fill="#c0c0c0"/>
<rect x="608" y="328" width="3" height="1" fill="#c0c0c0"/>
<rect x="614" y="328" width="3" height="1" fill="#c0c0c0"/>
<rect x="620" y="328" width="3" height="1" fill="#c0c0c0"/>
<rect x="626" y="328" width="3" height="1" fill="#c0c0c0"/>
<rect x="632" y="328" width="3" height="1" fill="#c0c0c0"/>
<rect x="638" y="328" width="3" height="1" fill="#c0c0c0"/>
<rect x="644" y="328" width="3" height="1" fill="#c0c0c0"/>
<rect x="650" y="328" width="3" height="1" fill="#c0c0c0"/>
<rect x="656" y="328" width="3" height="1" fill="#c0c0c0"/>
<rect x="2" y="340" width="3" height="1" fill="#c0c0c0"/>
<rect x="8" y="340" width="3" height="1" fill="#c0c0c0"/>
<rect x="14" y="340" width="3" height="1" fill="#c0c0c0"/>
<rect x="20" y="340" width="3" height="1" fill="#c0c0c0"/>
<rect x="26" y="340" width="3" height="1" fill="#c0c0c0"/>
<rect x="32" y="340" width="3" height="1" fill="#c0c0c0"/>
<rect x="38" y="340" width="3" height="1" fill="#c0c0c0"/>
<rect x="44" y="340" width="3" height="1" fill="#c0c0c0"/>
<rect x="50" y="340" width="3" height="1" fill="#c0c0c0"/>
<rect x="56" y="340" width="3" height="1" fill="#c0c0c0"/>
<rect x="62" y="340" width="3" height="1" fill="#c0c0c0"/>
<rect x="68" y="340" width="3" height="1" fill="#c0c0c0"/>
<rect x="74" y="340" width="3" height="1" fill="#c0c0c0"/>
<rect x="80" y="340" width="3" height="1" fill="#c0c0c0"/>
<rect x="86" y="340" width="3" height="1" fill="#c0c0c0"/>
<rect x="92" y="340" width="3" height="1" fill="#c0c0c0"/>
<rect x="98" y="340" width="3" height="1" fill="#c0c0c0"/>
<rect x="104" y="340" width="3" height="1" fill="#c0c0c0"/>
<rect x="110" y="340" width="3" height="1" fill="#c0c0c0"/>
<rect x="116" y="340" width="3" height="1" fill="#c0c0c0"/>
<rect x="122" y="340" width="3" height="1" fill="#c0c0c0"/>
<rect x="128" y="340" width="3" height="1" fill="#c0c0c0"/>
<rect x="134" y="340" width="3" height="1" fill="#c0c0c0"/>
<rect x="140" y="340" width="3" height="1" fill="#c0c0c0"/>
<rect x="146" y="340" width="3" height="1" fill="#c0c0c0"/>
<rect x="152" y="340" width="3" height="1" fill="#c0c0c0"/>
<rect x="158" y="340" width="3" height="1" fill="#c0c0c0"/>
<rect x="164" y="340" width="3" height="1" fill="#c0c0c0"/>
<rect x="170" y="340" width="3" height="1" fill="#c0c0c0"/>
<rect x="176" y="340" width="3" height="1" fill="#c0c0c0"/>
<rect x="182" y="340" width="3" height="1" fill="#c0c0c0"/>
<rect x="188" y="340" width="3" height="1" fill="#c0c0c0"/>
<rect x="194" y="340" width="3" height="1" fill="#c0c0c0"/>
<rect x="200" y="340" width="3" height="1" fill="#c0c0c0"/>
<rect x="206" y="340" width="3" height="1" fill="#c0c0c0"/>
<rect x="212" y="340" width="3" height="1" fill="#c0c0c0"/>
<rect x="218" y="340" width="3" height="1" fill="#c0c0c0"/>
<rect x="224" y="340" width="3" height="1" fill="#c0c0c0"/>
<rect x="230" y="340" width="3" height="1" fill="#c0c0c0"/>
<rect x="236" y="340" width="3" height="1" fill="#c0c0c0"/>
<rect x="242" y="340" width="3" height="1" fill="#c0c0c0"/>
<rect x="248" y="340" width="3" height="1" fill="#c0c0c0"/>
<rect x="254" y="340" width="3" height="1" fill="#c0c0c0"/>
<rect x="260" y="340" width="3" height="1" fill="#c0c0c0"/>
<rect x="266" y="340" width="3" height="1" fill="#c0c0c0"/>
<rect x="272" y="340" width="3" height="1" fill="#c0c0c0"/>
<rect x="278" y="340" width="3" height="1" fill="#c0c0c0"/>
<rect x="284" y="340" width="3" height="1" fill="#c0c0c0"/>
<rect x="290" y="340" width="3" height="1" fill="#c0c0c0"/>
<rect x="296" y="340" width="3" height="1" fill="#c0c0c0"/>
<rect x="302" y="340" width="3" height="1" fill="#c0c0c0"/>
<rect x="308" y="340" width="3" height="1" fill="#c0c0c0"/>
<rect x="314" y="340" width="3" height="1" fill="#c0c0c0"/>
<rect x="320" y="340" width="3" height="1" fill="#c0c0c0"/>
<rect x="326" y="340" width="3" height="1" fill="#c0c0c0"/>
<rect x="332" y="340" width="3" height="1" fill="#c0c0c0"/>
<rect x="338" y="340" width="3" height="1" fill="#c0c0c0"/>
<rect x="344" y="340" width="3" height="1" fill="#c0c0c0"/>
<rect x="350" y="340" width="3" height="1" fill="#c0c0c0"/>
<rect x="356" y="340" width="3" height="1" fill="#c0c0c0"/>
<rect x="362" y="340" width="3" height="1" fill="#c0c0c0"/>
<rect x="368" y="340" width="3" height="1" fill="#c0c0c0"/>
<rect x="374" y="340" width="3" height="1" fill="#c0c0c0"/>
<rect x="380" y="340" width="3" height="1" fill="#c0c0c0"/>
<rect x="386" y="340" width="3" height="1" fill="#c0c0c0"/>
<rect x="392" y="340" width="3" height="1" fill="#c0c0c0"/>
<rect x="398" y="340" width="3" height="1" fill="#c0c0c0"/>
<rect x="404" y="340" width="3" height="1" fill="#c0c0c0"/>
<rect x="410" y="340" width="3" height="1" fill="#c0c0c0"/>
<rect x="416" y="340" width="3" height="1" fill="#c0c0c0"/>
<rect x="422" y="340" width="3" height="1" fill="#c0c0c0"/>
<rect x="428" y="340" width="3" height="1" fill="#c0c0c0"/>
<rect x="434" y="340" width="3" height="1" fill="#c0c0c0"/>
<rect x="440" y="340" width="3" height="1" fill="#c0c0c0"/>
<rect x="446" y="340" width="3" height="1" fill="#c0c0c0"/>
<rect x="452" y="340" width="3" height="1" fill="#c0c0c0"/>
<rect x="458" y="340" width="3" height="1" fill="#c0c0c0"/>
<rect x="464" y="340" width="3" height="1" fill="#c0c0c0"/>
<rect x="470" y="340" width="3" height="1" fill="#c0c0c0"/>
<rect x="476" y="340" width="3" height="1" fill="#c0c0c0"/>
<rect x="482" y="340" width="3" height="1" fill="#c0c0c0"/>
<rect x="488" y="340" width="3" height="1" fill="#c0c0c0"/>
<rect x="494" y="340" width="3" height="1" fill="#c0c0c0"/>
<rect x="500" y="340" width="3" height="1" fill="#c0c0c0"/>
<rect x="506" y="340" width="3" height="1" fill="#c0c0c0"/>
<rect x="512" y="340" width="3" height="1" fill="#c0c0c0"/>
<rect x="518" y="340" width="3" height="1" fill="#c0c0c0"/>
<rect x="524" y="340" width="3" height="1" fill="#c0c0c0"/>
<rect x="530" y="340" width="3" height="1" fill="#c0c0c0"/>
<rect x="536" y="340" width="3" height="1" fill="#c0c0c0"/>
<rect x="542" y="340" width="3" height="1" fill="#c0c0c0"/>
<rect x="548" y="340" width="3" height="1" fill="#c0c0c0"/>
<rect x="554" y="340" width="3" height="1" fill="#c0c0c0"/>
<rect x="560" y="340" width="3" height="1" fill="#c0c0c0"/>
<rect x="566" y="340" width="3" height="1" fill="#c0c0c0"/>
<rect x="572" y="340" width="3" height="1" fill="#c0c0c0"/>
<rect x="578" y="340" width="3" height="1" fill="#c0c0c0"/>
<rect x="584" y="340" width="3" height="1" fill="#c0c0c0"/>
<rect x="590" y="340" width="3" height="1" fill="#c0c0c0"/>
<rect x="596" y="340" width="3" height="1" fill="#c0c0c0"/>
<rect x="602" y="340" width="3" height="1" fill="#c0c0c0"/>
<rect x="608" y="340" width="3" height="1" fill="#c0c0c0"/>
<rect x="614" y="340" width="3" height="1" fill="#c0c0c0"/>
<rect x="620" y="340" width="3" height="1" fill="#c0c0c0"/>
<rect x="626" y="340" width="3" height="1" fill="#c0c0c0"/>
<rect x="632" y="340" width="3" height="1" fill="#c0c0c0"/>
<rect x="638" y="340" width="3" height="1" fill="#c0c0c0"/>
<rect x="644" y="340" width="3" height="1" fill="#c0c0c0"/>
<rect x="650" y="340" width="3" height="1" fill="#c0c0c0"/>
<rect x="656" y="340" width="3" height="1" fill="#c0c0c0"/>
<rect x="2" y="353" width="3" height="1" fill="#c0c0c0"/>
<rect x="8" y="353" width="3" height="1" fill="#c0c0c0"/>
<rect x="14" y="353" width="3" height="1" fill="#c0c0c0"/>
<rect x="20" y="353" width="3" height="1" fill="#c0c0c0"/>
<rect x="26" y="353" width="3" height="1" fill="#c0c0c0"/>
<rect x="32" y="353" width="3" height="1" fill="#c0c0c0"/>
<rect x="38" y="353" width="3" height="1" fill="#c0c0c0"/>
<rect x="44" y="353" width="3" height="1" fill="#c0c0c0"/>
<rect x="50" y="353" width="3" height="1" fill="#c0c0c0"/>
<rect x="56" y="353" width="3" height="1" fill="#c0c0c0"/>
<rect x="62" y="353" width="3" height="1" fill="#c0c0c0"/>
<rect x="68" y="353" width="3" height="1" fill="#c0c0c0"/>
<rect x="74" y="353" width="3" height="1" fill="#c0c0c0"/>
<rect x="80" y="353" width="3" height="1" fill="#c0c0c0"/>
<rect x="86" y="353" width="3" height="1" fill="#c0c0c0"/>
<rect x="92" y="353" width="3" height="1" fill="#c0c0c0"/>
<rect x="98" y="353" width="3" height="1" fill="#c0c0c0"/>
<rect x="104" y="353" width="3" height="1" fill="#c0c0c0"/>
<rect x="110" y="353" width="3" height="1" fill="#c0c0c0"/>
<rect x="116" y="353" width="3" height="1" fill="#c0c0c0"/>
<rect x="122" y="353" width="3" height="1" fill="#c0c0c0"/>
<rect x="128" y="353" width="3" height="1" fill="#c0c0c0"/>
<rect x="134" y="353" width="3" height="1" fill="#c0c0c0"/>
<rect x="140" y="353" width="3" height="1" fill="#c0c0c0"/>
<rect x="146" y="353" width="3" height="1" fill="#c0c0c0"/>
<rect x="152" y="353" width="3" height="1" fill="#c0c0c0"/>
<rect x="158" y="353" width="3" height="1" fill="#c0c0c0"/>
<rect x="164" y="353" width="3" height="1" fill="#c0c0c0"/>
<rect x="170" y="353" width="3" height="1" fill="#c0c0c0"/>
<rect x="176" y="353" width="3" height="1" fill="#c0c0c0"/>
<rect x="182" y="353" width="3" height="1" fill="#c0c0c0"/>
<rect x="188" y="353" width="3" height="1" fill="#c0c0c0"/>
<rect x="194" y="353" width="3" height="1" fill="#c0c0c0"/>
<rect x="200" y="353" width="3" height="1" fill="#c0c0c0"/>
<rect x="206" y="353" width="3" height="1" fill="#c0c0c0"/>
<rect x="212" y="353" width="3" height="1" fill="#c0c0c0"/>
<rect x="218" y="353" width="3" height="1" fill="#c0c0c0"/>
<rect x="224" y="353" width="3" height="1" fill="#c0c0c0"/>
<rect x="230" y="353" width="3" height="1" fill="#c0c0c0"/>
<rect x="236" y="353" width="3" height="1" fill="#c0c0c0"/>
<rect x="242" y="353" width="3" height="1" fill="#c0c0c0"/>
<rect x="248" y="353" width="3" height="1" fill="#c0c0c0"/>
<rect x="254" y="353" width="3" height="1" fill="#c0c0c0"/>
<rect x="260" y="353" width="3" height="1" fill="#c0c0c0"/>
<rect x="266" y="353" width="3" height="1" fill="#c0c0c0"/>
<rect x="272" y="353" width="3" height="1" fill="#c0c0c0"/>
<rect x="278" y="353" width="3" height="1" fill="#c0c0c0"/>
<rect x="284" y="353" width="3" height="1" fill="#c0c0c0"/>
<rect x="290" y="353" width="3" height="1" fill="#c0c0c0"/>
<rect x="296" y="353" width="3" height="1" fill="#c0c0c0"/>
<rect x="302" y="353" width="3" height="1" fill="#c0c0c0"/>
<rect x="308" y="353" width="3" height="1" fill="#c0c0c0"/>
<rect x="314" y="353" width="3" height="1" fill="#c0c0c0"/>
<rect x="320" y="353" width="3" height="1" fill="#c0c0c0"/>
<rect x="326" y="353" width="3" height="1" fill="#c0c0c0"/>
<rect x="332" y="353" width="3" height="1" fill="#c0c0c0"/>
<rect x="338" y="353" width="3" height="1" fill="#c0c0c0"/>
<rect x="344" y="353" width="3" height="1" fill="#c0c0c0"/>
<rect x="350" y="353" width="3" height="1" fill="#c0c0c0"/>
<rect x="356" y="353" width="3" height="1" fill="#c0c0c0"/>
<rect x="362" y="353" width="3" height="1" fill="#c0c0c0"/>
<rect x="368" y="353" width="3" height="1" fill="#c0c0c0"/>
<rect x="374" y="353" width="3" height="1" fill="#c0c0c0"/>
<rect x="380" y="353" width="3" height="1" fill="#c0c0c0"/>
<rect x="386" y="353" width="3" height="1" fill="#c0c0c0"/>
<rect x="392" y="353" width="3" height="1" fill="#c0c0c0"/>
<rect x="398" y="353" width="3" height="1" fill="#c0c0c0"/>
<rect x="404" y="353" width="3" height="1" fill="#c0c0c0"/>
<rect x="410" y="353" width="3" height="1" fill="#c0c0c0"/>
<rect x="416" y="353" width="3" height="1" fill="#c0c0c0"/>
<rect x="422" y="353" width="3" height="1" fill="#c0c0c0"/>
<rect x="428" y="353" width="3" height="1" fill="#c0c0c0"/>
<rect x="434" y="353" width="3" height="1" fill="#c0c0c0"/>
<rect x="440" y="353" width="3" height="1" fill="#c0c0c0"/>
<rect x="446" y="353" width="3" height="1" fill="#c0c0c0"/>
<rect x="452" y="353" width="3" height="1" fill="#c0c0c0"/>
<rect x="458" y="353" width="3" height="1" fill="#c0c0c0"/>
<rect x="464" y="353" width="3" height="1" fill="#c0c0c0"/>
<rect x="470" y="353" width="3" height="1" fill="#c0c0c0"/>
<rect x="476" y="353" width="3" height="1" fill="#c0c0c0"/>
<rect x="482" y="353" width="3" height="1" fill="#c0c0c0"/>
<rect x="488" y="353" width="3" height="1" fill="#c0c0c0"/>
<rect x="494" y="353" width="3" height="1" fill="#c0c0c0"/>
<rect x="500" y="353" width="3" height="1" fill="#c0c0c0"/>
<rect x="506" y="353" width="3" height="1" fill="#c0c0c0"/>
<rect x="512" y="353" width="3" height="1" fill="#c0c0c0"/>
<rect x="518" y="353" width="3" height="1" fill="#c0c0c0"/>
<rect x="524" y="353" width="3" height="1" fill="#c0c0c0"/>
<rect x="530" y="353" width="3" height="1" fill="#c0c0c0"/>
<rect x="536" y="353" width="3" height="1" fill="#c0c0c0"/>
<rect x="542" y="353" width="3" height="1" fill="#c0c0c0"/>
<rect x="548" y="353" width="3" height="1" fill="#c0c0c0"/>
<rect x="554" y="353" width="3" height="1" fill="#c0c0c0"/>
<rect x="560" y="353" width="3" height="1" fill="#c0c0c0"/>
<rect x="566" y="353" width="3" height="1" fill="#c0c0c0"/>
<rect x="572" y="353" width="3" height="1" fill="#c0c0c0"/>
<rect x="578" y="353" width="3" height="1" fill="#c0c0c0"/>
<rect x="584" y="353" width="3" height="1" fill="#c0c0c0"/>
<rect x="590" y="353" width="3" height="1" fill="#c0c0c0"/>
<rect x="596" y="353" width="3" height="1" fill="#c0c0c0"/>
<rect x="602" y="353" width="3" height="1" fill="#c0c0c0"/>
<rect x="608" y="353" width="3" height="1" fill="#c0c0c0"/>
<rect x="614" y="353" width="3" height="1" fill="#c0c0c0"/>
<rect x="620" y="353" width="3" height="1" fill="#c0c0c0"/>
<rect x="626" y="353" width="3" height="1" fill="#c0c0c0"/>
<rect x="632" y="353" width="3" height="1" fill="#c0c0c0"/>
<rect x="638" y="353" width="3" height="1" fill="#c0c0c0"/>
<rect x="644" y="353" width="3" height="1" fill="#c0c0c0"/>
<rect x="650" y="353" width="3" height="1" fill="#c0c0c0"/>
<rect x="656" y="353" width="3" height="1" fill="#c0c0c0"/>
<rect x="2" y="76" width="1" height="9" fill="#000"/>
<rect x="0" y="76" width="5" height="9" fill="#000"/>
<rect x="1" y="77" width="3" height="7" fill="#fff"/>
<rect x="10" y="71" width="1" height="10" fill="#000"/>
<rect x="8" y="71" width="5" height="6" fill="#000"/>
<rect x="9" y="72" width="3" height="4" fill="#fff"/>
<rect x="18" y="71" width="1" height="10" fill="#000"/>
<rect x="16" y="71" width="5" height="6" fill="#000"/>
<rect x="26" y="57" width="1" height="21" fill="#000"/>
<rect x="24" y="60" width="5" height="17" fill="#000"/>
<rect x="25" y="61" width="3" height="15" fill="#fff"/>
<rect x="34" y="52" width="1" height="11" fill="#000"/>
<rect x="32" y="60" width="5" height="1" fill="#000"/>
<rect x="42" y="35" width="1" height="27" fill="#000"/>
<rect x="40" y="45" width="5" height="16" fill="#000"/>
<rect x="41" y="46" width="3" height="14" fill="#fff"/>
<rect x="50" y="40" width="1" height="28" fill="#000"/>
<rect x="48" y="45" width="5" height="20" fill="#000"/>
<rect x="58" y="49" width="1" height="20" fill="#000"/>
<rect x="56" y="52" width="5" height="12" fill="#000"/>
<rect x="57" y="53" width="3" height="10" fill="#fff"/>
<rect x="66" y="43" width="1" height="42" fill="#000"/>
<rect x="64" y="51" width="5" height="22" fill="#000"/>
<rect x="74" y="45" width="1" height="34" fill="#000"/>
<rect x="72" y="72" width="5" height="7" fill="#000"/>
<rect x="82" y="71" width="1" height="14" fill="#000"/>
<rect x="80" y="78" width="5" height="1" fill="#000"/>
<rect x="90" y="68" width="1" height="16" fill="#000"/>
<rect x="88" y="79" width="5" height="2" fill="#000"/>
<rect x="98" y="80" width="1" height="20" fill="#000"/>
<rect x="96" y="80" width="5" height="11" fill="#000"/>
<rect x="106" y="61" width="1" height="54" fill="#000"/>
<rect x="104" y="82" width="5" height="10" fill="#000"/>
<rect x="105" y="83" width="3" height="8" fill="#fff"/>
<rect x="114" y="53" width="1" height="30" fill="#000"/>
<rect x="112" y="65" width="5" height="18" fill="#000"/>
<rect x="113" y="66" width="3" height="16" fill="#fff"/>
<rect x="122" y="63" width="1" height="8" fill="#000"/>
<rect x="120" y="63" width="5" height="3" fill="#000"/>
<rect x="121" y="64" width="3" height="1" fill="#fff"/>
<rect x="130" y="58" width="1" height="8" fill="#000"/>
<rect x="128" y="61" width="5" height="3" fill="#000"/>
<rect x="129" y="62" width="3" height="1" fill="#fff"/>
<rect x="138" y="60" width="1" height="12" fill="#000"/>
<rect x="136" y="61" width="5" height="3" fill="#000"/>
<rect x="146" y="49" width="1" height="15" fill="#000"/>
<rect x="144" y="51" width="5" height="13" fill="#000"/>
<rect x="145" y="52" width="3" height="11" fill="#fff"/>
<rect x="154" y="47" width="1" height="8" fill="#000"/>
<rect x="152" y="51" width="5" height="2" fill="#000"/>
<rect x="162" y="53" width="1" height="3" fill="#000"/>
<rect x="160" y="53" width="5" height="1" fill="#000"/>
<rect x="170" y="37" width="1" height="11" fill="#000"/>
<rect x="168" y="44" width="5" height="2" fill="#000"/>
<rect x="178" y="17" width="1" height="28" fill="#000"/>
<rect x="176" y="26" width="5" height="19" fill="#000"/>
<rect x="177" y="27" width="3" height="17" fill="#fff"/>
<rect x="186" y="25" width="1" height="12" fill="#000"/>
<rect x="184" y="26" width="5" height="7" fill="#000"/>
<rect x="194" y="30" width="1" height="18" fill="#000"/>
<rect x="192" y="32" width="5" height="7" fill="#000"/>
<rect x="202" y="30" width="1" height="9" fill="#000"/>
<rect x="200" y="31" width="5" height="7" fill="#000"/>
<rect x="201" y="32" width="3" height="5" fill="#fff"/>
<rect x="210" y="23" width="1" height="12" fill="#000"/>
<rect x="208" y="28" width="5" height="4" fill="#000"/>
<rect x="209" y="29" width="3" height="2" fill="#fff"/>
<rect x="218" y="27" width="1" height="8" fill="#000"/>
<rect x="216" y="28" width="5" height="6" fill="#000"/>
<rect x="226" y="32" width="1" height="31" fill="#000"/>
<rect x="224" y="33" width="5" height="21" fill="#000"/>
<rect x="234" y="29" width="1" height="32" fill="#000"/>
<rect x="232" y="34" width="5" height="19" fill="#000"/>
<rect x="233" y="35" width="3" height="17" fill="#fff"/>
<rect x="242" y="34" width="1" height="22" fill="#000"/>
<rect x="240" y="34" width="5" height="19" fill="#000"/>
<rect x="250" y="44" width="1" height="14" fill="#000"/>
<rect x="248" y="50" width="5" height="3" fill="#000"/>
<rect x="249" y="51" width="3" height="1" fill="#fff"/>
<rect x="258" y="42" width="1" height="18" fill="#000"/>
<rect x="256" y="50" width="5" height="5" fill="#000"/>
<rect x="266" y="50" width="1" height="12" fill="#000"/>
<rect x="264" y="54" width="5" height="3" fill="#000"/>
<rect x="274" y="55" width="1" height="19" fill="#000"/>
<rect x="272" y="56" width="5" height="16" fill="#000"/>
<rect x="282" y="63" width="1" height="10" fill="#000"/>
<rect x="280" y="68" width="5" height="4" fill="#000"/>
<rect x="281" y="69" width="3" height="2" fill="#fff"/>
<rect x="290" y="56" width="1" height="13" fill="#000"/>
<rect x="288" y="60" width="5" height="9" fill="#000"/>
<rect x="289" y="61" width="3" height="7" fill="#fff"/>
<rect x="298" y="54" width="1" height="10" fill="#000"/>
<rect x="296" y="60" width="5" height="3" fill="#000"/>
<rect x="306" y="54" width="1" height="14" fill="#000"/>
<rect x="304" y="56" width="5" height="7" fill="#000"/>
<rect x="305" y="57" width="3" height="5" fill="#fff"/>
<rect x="314" y="45" width="1" height="13" fill="#000"/>
<rect x="312" y="49" width="5" height="8" fill="#000"/>
<rect x="313" y="50" width="3" height="6" fill="#fff"/>
<rect x="322" y="45" width="1" height="11" fill="#000"/>
<rect x="320" y="48" width="5" height="2" fill="#000"/>
<rect x="330" y="37" width="1" height="14" fill="#000"/>
<rect x="328" y="38" width="5" height="12" fill="#000"/>
<rect x="329" y="39" width="3" height="10" fill="#fff"/>
<rect x="338" y="37" width="1" height="14" fill="#000"/>
<rect x="336" y="38" width="5" height="10" fill="#000"/>
<rect x="346" y="42" width="1" height="9" fill="#000"/>
<rect x="344" y="42" width="5" height="6" fill="#000"/>
<rect x="345" y="43" width="3" height="4" fill="#fff"/>
<rect x="354" y="39" width="1" height="9" fill="#000"/>
<rect x="352" y="43" width="5" height="1" fill="#000"/>
<rect x="362" y="34" width="1" height="15" fill="#000"/>
<rect x="360" y="36" width="5" height="8" fill="#000"/>
<rect x="361" y="37" width="3" height="6" fill="#fff"/>
<rect x="370" y="33" width="1" height="12" fill="#000"/>
<rect x="368" y="36" width="5" height="6" fill="#000"/>
<rect x="378" y="42" width="1" height="20" fill="#000"/>
<rect x="376" y="42" width="5" height="11" fill="#000"/>
<rect x="386" y="49" width="1" height="39" fill="#000"/>
<rect x="384" y="52" width="5" height="31" fill="#000"/>
<rect x="394" y="76" width="1" height="15" fill="#000"/>
<rect x="392" y="79" width="5" height="4" fill="#000"/>
<rect x="393" y="80" width="3" height="2" fill="#fff"/>
<rect x="402" y="76" width="1" height="9" fill="#000"/>
<rect x="400" y="77" width="5" height="3" fill="#000"/>
<rect x="401" y="78" width="3" height="1" fill="#fff"/>
<rect x="410" y="77" width="1" height="18" fill="#000"/>
<rect x="408" y="77" width="5" height="16" fill="#000"/>
<rect x="418" y="81" width="1" height="12" fill="#000"/>
<rect x="416" y="88" width="5" height="5" fill="#000"/>
<rect x="417" y="89" width="3" height="3" fill="#fff"/>
<rect x="426" y="85" width="1" height="14" fill="#000"/>
<rect x="424" y="86" width="5" height="3" fill="#000"/>
<rect x="425" y="87" width="3" height="1" fill="#fff"/>
<rect x="434" y="79" width="1" height="19" fill="#000"/>
<rect x="432" y="85" width="5" height="2" fill="#000"/>
<rect x="442" y="71" width="1" height="18" fill="#000"/>
<rect x="440" y="83" width="5" height="3" fill="#000"/>
<rect x="441" y="84" width="3" height="1" fill="#fff"/>
<rect x="450" y="78" width="1" height="18" fill="#000"/>
<rect x="448" y="83" width="5" height="2" fill="#000"/>
<rect x="458" y="74" width="1" height="16" fill="#000"/>
<rect x="456" y="84" width="5" height="5" fill="#000"/>
<rect x="466" y="85" width="1" height="9" fill="#000"/>
<rect x="464" y="88" width="5" height="4" fill="#000"/>
<rect x="474" y="79" width="1" height="21" fill="#000"/>
<rect x="472" y="80" width="5" height="12" fill="#000"/>
<rect x="473" y="81" width="3" height="10" fill="#fff"/>
<rect x="482" y="75" width="1" height="19" fill="#000"/>
<rect x="480" y="80" width="5" height="7" fill="#000"/>
<rect x="490" y="75" width="1" height="22" fill="#000"/>
<rect x="488" y="87" width="5" height="10" fill="#000"/>
<rect x="498" y="90" width="1" height="19" fill="#000"/>
<rect x="496" y="92" width="5" height="5" fill="#000"/>
<rect x="497" y="93" width="3" height="3" fill="#fff"/>
<rect x="506" y="87" width="1" height="8" fill="#000"/>
<rect x="504" y="90" width="5" height="3" fill="#000"/>
<rect x="505" y="91" width="3" height="1" fill="#fff"/>
<rect x="514" y="78" width="1" height="16" fill="#000"/>
<rect x="512" y="81" width="5" height="10" fill="#000"/>
<rect x="513" y="82" width="3" height="8" fill="#fff"/>
<rect x="522" y="79" width="1" height="58" fill="#000"/>
<rect x="520" y="81" width="5" height="51" fill="#000"/>
<rect x="530" y="116" width="1" height="21" fill="#000"/>
<rect x="528" y="123" width="5" height="9" fill="#000"/>
<rect x="529" y="124" width="3" height="7" fill="#fff"/>
<rect x="538" y="118" width="1" height="11" fill="#000"/>
<rect x="536" y="119" width="5" height="5" fill="#000"/>
<rect x="537" y="120" width="3" height="3" fill="#fff"/>
<rect x="546" y="119" width="1" height="7" fill="#000"/>
<rect x="544" y="119" width="5" height="4" fill="#000"/>
<rect x="554" y="117" width="1" height="12" fill="#000"/>
<rect x="552" y="122" width="5" height="3" fill="#000"/>
<rect x="562" y="114" width="1" height="11" fill="#000"/>
<rect x="560" y="116" width="5" height="9" fill="#000"/>
<rect x="561" y="117" width="3" height="7" fill="#fff"/>
<rect x="570" y="107" width="1" height="16" fill="#000"/>
<rect x="568" y="108" width="5" height="9" fill="#000"/>
<rect x="569" y="109" width="3" height="7" fill="#fff"/>
<rect x="578" y="107" width="1" height="9" fill="#000"/>
<rect x="576" y="107" width="5" height="2" fill="#000"/>
<rect x="586" y="95" width="1" height="15" fill="#000"/>
<rect x="584" y="101" width="5" height="7" fill="#000"/>
<rect x="585" y="102" width="3" height="5" fill="#fff"/>
<rect x="594" y="93" width="1" height="11" fill="#000"/>
<rect x="592" y="99" width="5" height="3" fill="#000"/>
<rect x="593" y="100" width="3" height="1" fill="#fff"/>
<rect x="602" y="98" width="1" height="8" fill="#000"/>
<rect x="600" y="99" width="5" height="1" fill="#000"/>
<rect x="610" y="98" width="1" height="12" fill="#000"/>
<rect x="608" y="99" width="5" height="2" fill="#000"/>
<rect x="618" y="93" width="1" height="33" fill="#000"/>
<rect x="616" y="99" width="5" height="24" fill="#000"/>
<rect x="626" y="121" width="1" height="44" fill="#000"/>
<rect x="624" y="122" width="5" height="33" fill="#000"/>
<rect x="634" y="153" width="1" height="18" fill="#000"/>
<rect x="632" y="154" width="5" height="14" fill="#000"/>
<rect x="642" y="162" width="1" height="17" fill="#000"/>
<rect x="640" y="165" width="5" height="3" fill="#000"/>
<rect x="641" y="166" width="3" height="1" fill="#fff"/>
<rect x="650" y="159" width="1" height="25" fill="#000"/>
<rect x="648" y="165" width="5" height="16" fill="#000"/>
<rect x="2" y="4" width="658" height="1" fill="#000"/>
<rect x="2" y="189" width="658" height="1" fill="#000"/>
<rect x="2" y="4" width="1" height="186" fill="#000"/>
<rect x="659" y="4" width="1" height="186" fill="#000"/>
<rect x="2" y="191" width="658" height="1" fill="#000"/>
<rect x="2" y="287" width="658" height="1" fill="#000"/>
<rect x="2" y="191" width="1" height="97" fill="#000"/>
<rect x="659" y="191" width="1" height="97" fill="#000"/>
<rect x="2" y="289" width="658" height="1" fill="#000"/>
<rect x="2" y="391" width="658" height="1" fill="#000"/>
<rect x="2" y="289" width="1" height="103" fill="#000"/>
<rect x="659" y="289" width="1" height="103" fill="#000"/>
<rect x="0" y="0" width="2" height="412" fill="#fff"/>
<rect x="660" y="28" width="4" height="1" fill="#000"/>
<rect x="660" y="61" width="4" height="1" fill="#000"/>
<rect x="660" y="93" width="4" height="1" fill="#000"/>
<rect x="660" y="125" width="4" height="1" fill="#000"/>
<rect x="660" y="157" width="4" height="1" fill="#000"/>
<rect x="660" y="192" width="4" height="1" fill="#000"/>
<rect x="660" y="228" width="4" height="1" fill="#000"/>
<rect x="660" y="251" width="4" height="1" fill="#000"/>
<rect x="660" y="286" width="4" height="1" fill="#000"/>
<rect x="660" y="290" width="4" height="1" fill="#000"/>
<rect x="660" y="328" width="4" height="1" fill="#000"/>
<rect x="660" y="353" width="4" height="1" fill="#000"/>
<rect x="660" y="390" width="4" height="1" fill="#000"/>
<rect x="660" y="239" width="2" height="1" fill="#c0c0c0"/>
<rect x="660" y="340" width="2" height="1" fill="#c0c0c0"/>
<rect x="2" y="391" width="1" height="5" fill="#000"/>
<rect x="66" y="391" width="1" height="5" fill="#000"/>
<rect x="130" y="391" width="1" height="5" fill="#000"/>
<rect x="194" y="391" width="1" height="5" fill="#000"/>
<rect x="258" y="391" width="1" height="5" fill="#000"/>
<rect x="322" y="391" width="1" height="5" fill="#000"/>
<rect x="386" y="391" width="1" height="5" fill="#000"/>
<rect x="450" y="391" width="1" height="5" fill="#000"/>
<rect x="514" y="391" width="1" height="5" fill="#000"/>
<rect x="578" y="391" width="1" height="5" fill="#000"/>
<rect x="642" y="391" width="1" height="5" fill="#000"/>
<rect x="3" y="387" width="1" height="1" fill="#c0c0c0"/>
<rect x="3" y="388" width="2" height="1" fill="#c0c0c0"/>
<rect x="3" y="389" width="3" height="1" fill="#c0c0c0"/>
<rect x="3" y="390" width="4" height="1" fill="#c0c0c0"/>
</svg>
<svg width="701" height="412" viewBox="0 0 701 412" class="tx" style="will-change:transform;opacity:0.999">
<text x="665.60" y="32" textLength="32.56" lengthAdjust="spacingAndGlyphs">1.45600</text>
<text x="665.60" y="65" textLength="32.56" lengthAdjust="spacingAndGlyphs">1.45130</text>
<text x="665.60" y="97" textLength="32.56" lengthAdjust="spacingAndGlyphs">1.44660</text>
<text x="665.60" y="129" textLength="32.56" lengthAdjust="spacingAndGlyphs">1.44190</text>
<text x="665.60" y="161" textLength="32.56" lengthAdjust="spacingAndGlyphs">1.43720</text>
<text x="665.60" y="200" textLength="27.59" lengthAdjust="spacingAndGlyphs">100.00</text>
<text x="665.00" y="232" textLength="23.23" lengthAdjust="spacingAndGlyphs">25.00</text>
<text x="665.00" y="242" textLength="18.27" lengthAdjust="spacingAndGlyphs">0.00</text>
<text x="665.00" y="255" textLength="26.56" lengthAdjust="spacingAndGlyphs">-25.00</text>
<text x="665.00" y="285" textLength="31.52" lengthAdjust="spacingAndGlyphs">-100.00</text>
<text x="665.60" y="298" textLength="27.59" lengthAdjust="spacingAndGlyphs">100.00</text>
<text x="665.00" y="332" textLength="23.23" lengthAdjust="spacingAndGlyphs">25.00</text>
<text x="665.00" y="343" textLength="18.27" lengthAdjust="spacingAndGlyphs">0.00</text>
<text x="665.00" y="357" textLength="26.56" lengthAdjust="spacingAndGlyphs">-25.00</text>
<text x="665.00" y="389" textLength="31.52" lengthAdjust="spacingAndGlyphs">-100.00</text>
<text x="1.60" y="404" textLength="3.76" lengthAdjust="spacingAndGlyphs">1</text>
<text x="9.60" y="404" textLength="11.00" lengthAdjust="spacingAndGlyphs">Jul</text>
<text x="23.60" y="404" textLength="19.72" lengthAdjust="spacingAndGlyphs">2011</text>
<text x="65.60" y="404" textLength="3.76" lengthAdjust="spacingAndGlyphs">1</text>
<text x="73.60" y="404" textLength="11.00" lengthAdjust="spacingAndGlyphs">Jul</text>
<text x="88.00" y="404" textLength="23.10" lengthAdjust="spacingAndGlyphs">11:00</text>
<text x="129.60" y="404" textLength="3.76" lengthAdjust="spacingAndGlyphs">1</text>
<text x="137.60" y="404" textLength="11.00" lengthAdjust="spacingAndGlyphs">Jul</text>
<text x="152.60" y="404" textLength="22.63" lengthAdjust="spacingAndGlyphs">19:00</text>
<text x="193.60" y="404" textLength="4.96" lengthAdjust="spacingAndGlyphs">4</text>
<text x="201.60" y="404" textLength="11.00" lengthAdjust="spacingAndGlyphs">Jul</text>
<text x="215.60" y="404" textLength="23.83" lengthAdjust="spacingAndGlyphs">03:00</text>
<text x="257.60" y="404" textLength="4.96" lengthAdjust="spacingAndGlyphs">4</text>
<text x="265.60" y="404" textLength="11.00" lengthAdjust="spacingAndGlyphs">Jul</text>
<text x="280.00" y="404" textLength="23.10" lengthAdjust="spacingAndGlyphs">11:00</text>
<text x="321.60" y="404" textLength="4.96" lengthAdjust="spacingAndGlyphs">4</text>
<text x="329.60" y="404" textLength="11.00" lengthAdjust="spacingAndGlyphs">Jul</text>
<text x="344.60" y="404" textLength="22.63" lengthAdjust="spacingAndGlyphs">19:00</text>
<text x="385.60" y="404" textLength="4.96" lengthAdjust="spacingAndGlyphs">5</text>
<text x="393.60" y="404" textLength="11.00" lengthAdjust="spacingAndGlyphs">Jul</text>
<text x="407.60" y="404" textLength="23.83" lengthAdjust="spacingAndGlyphs">03:00</text>
<text x="449.60" y="404" textLength="4.96" lengthAdjust="spacingAndGlyphs">5</text>
<text x="457.60" y="404" textLength="11.00" lengthAdjust="spacingAndGlyphs">Jul</text>
<text x="472.00" y="404" textLength="23.10" lengthAdjust="spacingAndGlyphs">11:00</text>
<text x="513.60" y="404" textLength="4.96" lengthAdjust="spacingAndGlyphs">5</text>
<text x="521.60" y="404" textLength="11.00" lengthAdjust="spacingAndGlyphs">Jul</text>
<text x="536.60" y="404" textLength="22.63" lengthAdjust="spacingAndGlyphs">19:00</text>
<text x="577.60" y="404" textLength="4.96" lengthAdjust="spacingAndGlyphs">6</text>
<text x="585.60" y="404" textLength="11.00" lengthAdjust="spacingAndGlyphs">Jul</text>
<text x="599.60" y="404" textLength="23.83" lengthAdjust="spacingAndGlyphs">03:00</text>
<text x="641.60" y="404" textLength="4.96" lengthAdjust="spacingAndGlyphs">6</text>
<text x="649.60" y="404" textLength="11.00" lengthAdjust="spacingAndGlyphs">Jul</text>
<text x="664.00" y="404" textLength="23.10" lengthAdjust="spacingAndGlyphs">11:00</text>
<text x="6.60" y="15" textLength="54.20" lengthAdjust="spacingAndGlyphs">EURUSD,H1</text>
<text x="5.60" y="204" textLength="43.78" lengthAdjust="spacingAndGlyphs">Blau_CSI(</text>
<text x="48.60" y="204" textLength="46.36" lengthAdjust="spacingAndGlyphs">close,open,</text>
<text x="94.00" y="204" textLength="38.88" lengthAdjust="spacingAndGlyphs">1,20,5,3)</text>
<text x="134.60" y="204" textLength="25.96" lengthAdjust="spacingAndGlyphs">-22.57</text>
<text x="5.60" y="302" textLength="77.85" lengthAdjust="spacingAndGlyphs">Blau_Ergodic_CSI(</text>
<text x="83.60" y="302" textLength="46.36" lengthAdjust="spacingAndGlyphs">close,open,</text>
<text x="129.00" y="302" textLength="46.61" lengthAdjust="spacingAndGlyphs">1,20,5,3,3)</text>
<text x="177.60" y="302" textLength="25.96" lengthAdjust="spacingAndGlyphs">-22.57</text>
<text x="206.60" y="302" textLength="26.56" lengthAdjust="spacingAndGlyphs">-18.70</text>
</svg>
</body></html>
